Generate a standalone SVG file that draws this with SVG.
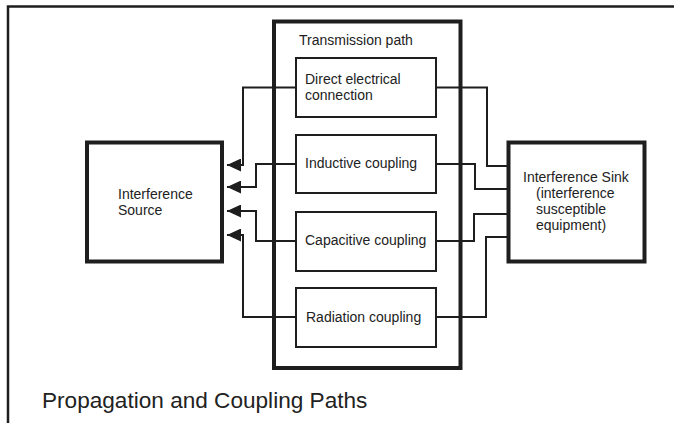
<svg xmlns="http://www.w3.org/2000/svg" width="674" height="423" viewBox="0 0 674 423">
  <style>
    .frame { fill: none; stroke: #1e1e1e; stroke-width: 2.5; }
    .thick { fill: #fff; stroke: #1e1e1e; stroke-width: 4; }
    .thin { fill: #fff; stroke: #1e1e1e; stroke-width: 2; }
    .conn { fill: none; stroke: #1e1e1e; stroke-width: 2; marker-end: url(#arrow); }
    .plain { fill: none; stroke: #1e1e1e; stroke-width: 2; }
    text { font-family: "Liberation Sans", Arial, sans-serif; font-size: 14px; fill: #222; }
    .title { font-size: 22.6px; }
  </style>
  <defs>
    <marker id="arrow" markerUnits="userSpaceOnUse" markerWidth="14" markerHeight="13" viewBox="0 0 14 13" refX="14" refY="6.5" orient="auto">
      <path d="M0,0 L14,6.5 L0,13 Z" fill="#1e1e1e"/>
    </marker>
  </defs>
  <rect width="674" height="423" fill="#fff"/>
  <path class="frame" d="M8,430 V6.5 H680"/>

  <g id="transmission-path">
    <rect class="thick" x="274" y="21.5" width="186.5" height="346.5"/>
    <text x="299" y="45">Transmission path</text>
  </g>

  <g id="connectors">
    <path class="conn" d="M296,87.5 H243 V165 H227"/>
    <path class="conn" d="M296,164 H256 V187 H227"/>
    <path class="conn" d="M296,241 H256 V211 H227"/>
    <path class="conn" d="M296,317 H243 V235 H227"/>
    <path class="plain" d="M436,87.5 H487 V166 H508"/>
    <path class="plain" d="M436,164 H475 V189 H508"/>
    <path class="plain" d="M436,241 H474 V214 H508"/>
    <path class="plain" d="M436,317 H486 V237 H508"/>
  </g>

  <g id="direct">
    <rect class="thin" x="296" y="58" width="140" height="59"/>
    <text x="305" y="84">Direct electrical</text>
    <text x="305" y="100">connection</text>
  </g>
  <g id="inductive">
    <rect class="thin" x="296" y="135" width="140" height="58"/>
    <text x="305" y="168">Inductive coupling</text>
  </g>
  <g id="capacitive">
    <rect class="thin" x="296" y="212" width="140" height="59"/>
    <text x="305" y="245">Capacitive coupling</text>
  </g>
  <g id="radiation">
    <rect class="thin" x="296" y="288" width="140" height="59"/>
    <text x="306" y="322">Radiation coupling</text>
  </g>

  <g id="source">
    <rect class="thick" x="87" y="142.5" width="135" height="119"/>
    <text x="118" y="199">Interference</text>
    <text x="118" y="215">Source</text>
  </g>

  <g id="sink">
    <rect class="thick" x="508.5" y="142.5" width="136" height="119"/>
    <text x="523" y="182">Interference Sink</text>
    <text x="536" y="198">(interference</text>
    <text x="536" y="214">susceptible</text>
    <text x="536" y="230">equipment)</text>
  </g>

  <text class="title" x="42" y="408">Propagation and Coupling Paths</text>
</svg>
